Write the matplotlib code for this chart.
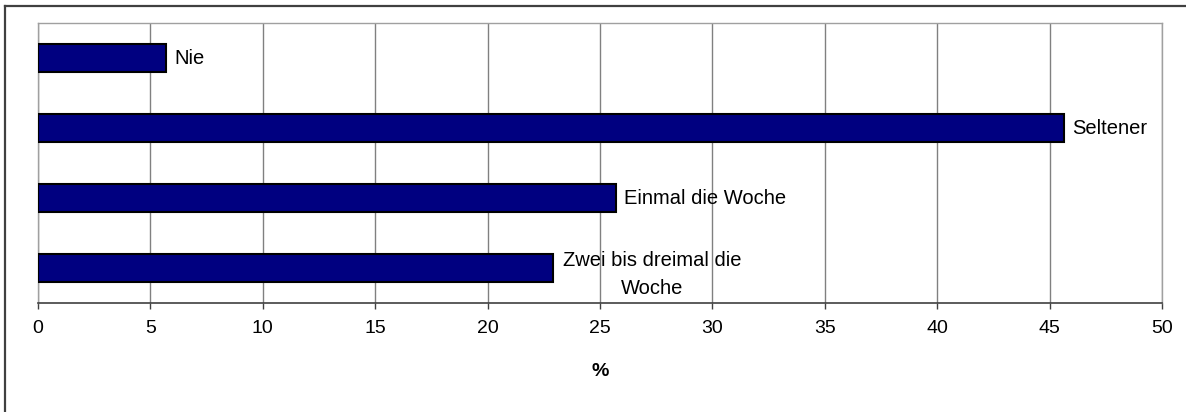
import matplotlib
matplotlib.use("Agg")
import matplotlib.pyplot as plt
from matplotlib.lines import Line2D

categories = ["Nie", "Seltener", "Einmal die Woche", "Zwei bis dreimal die\nWoche"]
values = [5.7, 45.65, 25.7, 22.9]
xticks = [0, 5, 10, 15, 20, 25, 30, 35, 40, 45, 50]

plt.rcParams['font.family'] = ['Liberation Sans', 'DejaVu Sans']

W, H = 1186, 412
fig = plt.figure(figsize=(W / 100, H / 100), dpi=100)
ax = fig.add_axes([38 / W, (H - 303) / H, (1162 - 38) / W, (303 - 23) / H])

ypos = list(range(len(categories)))
ax.barh(ypos, values, height=0.4, color="#000080", edgecolor="black", linewidth=1.5, zorder=3)
ax.set_ylim(len(categories) - 0.5, -0.5)
ax.set_xlim(0, 50)
ax.set_xticks(xticks)
ax.set_xticklabels([str(t) for t in xticks], fontsize=14)
ax.set_yticks([])
ax.tick_params(axis='x', direction='out', length=4.3, width=1, color='#404040', pad=8)
ax.grid(axis='x', color='#808080', linewidth=1, zorder=0)
for s in ['top', 'right', 'left']:
    ax.spines[s].set_color('#a0a0a0')
    ax.spines[s].set_linewidth(1)
ax.spines['bottom'].set_color('#404040')
ax.spines['bottom'].set_linewidth(1.2)

for y, v, lab in zip(ypos, values, categories):
    if "\n" in lab:
        ax.annotate(lab, xy=(v, y), xytext=(7, -4.5), textcoords='offset points',
                    ha='left', va='center', multialignment='center',
                    fontsize=14.5, linespacing=1.58, zorder=4)
    else:
        ax.annotate(lab, xy=(v, y), xytext=(6, 0), textcoords='offset points',
                    ha='left', va='center', fontsize=14.5, zorder=4)

fig.text(600 / W, (H - 372) / H, "%", ha='center', va='center', fontsize=14, fontweight='bold')

# outer frame (left and top edges visible)
fig.add_artist(Line2D([4.5 / W, 4.5 / W], [0, (H - 5.5) / H], transform=fig.transFigure, color='#404040', linewidth=1.6))
fig.add_artist(Line2D([4.5 / W, 1.0], [(H - 5.5) / H, (H - 5.5) / H], transform=fig.transFigure, color='#404040', linewidth=1.6))

fig.savefig("out.png", dpi=100)
